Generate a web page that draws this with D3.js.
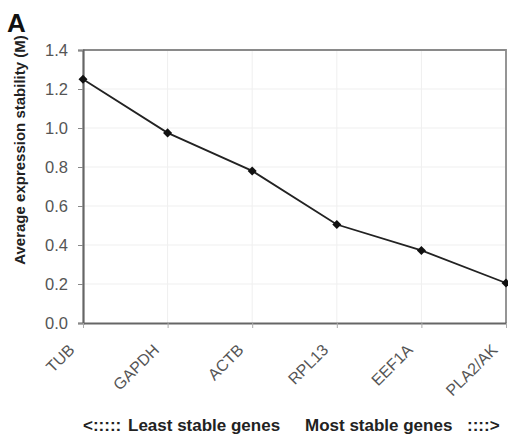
<!DOCTYPE html>
<html>
<head>
<meta charset="utf-8">
<script src="https://cdn.jsdelivr.net/npm/d3@7"></script>
<style>
  html, body { margin: 0; padding: 0; background: #fff; }
  svg { display: block; font-family: "Liberation Sans", Arial, sans-serif; }
</style>
</head>
<body>
<svg id="chart" width="508" height="438"></svg>
<script>
// Gene ranking by average expression stability (geNorm M value)
const genes = ["TUB", "GAPDH", "ACTB", "RPL13", "EEF1A", "PLA2/AK"];
const stabilityM = [1.25, 0.975, 0.78, 0.505, 0.372, 0.205];
const yTicks = [0.0, 0.2, 0.4, 0.6, 0.8, 1.0, 1.2, 1.4];
const noteParts = ["<:::::", "Least stable genes", "Most stable genes", "::::>"];

const svg = d3.select("#chart");
const m = { left: 83, right: 506, top: 50, bottom: 323 };
const font = "'Liberation Sans', Arial, sans-serif";

const x = d3.scalePoint().domain(genes).range([m.left, m.right]).padding(0);
const y = d3.scaleLinear().domain([0, 1.4]).range([m.bottom, m.top]);

// Panel letter
svg.append("text").attr("x", 7).attr("y", 32)
  .attr("font-size", 26).attr("font-weight", "bold").attr("fill", "#111")
  .text("A");

// Faint grid
const grid = svg.append("g");
grid.selectAll("line.h").data(yTicks.slice(1, -1)).join("line")
  .attr("x1", m.left).attr("x2", m.right)
  .attr("y1", d => y(d)).attr("y2", d => y(d))
  .attr("stroke", "#efefef").attr("stroke-width", 1);
grid.selectAll("line.v").data(genes.slice(1, -1)).join("line")
  .attr("x1", d => x(d)).attr("x2", d => x(d))
  .attr("y1", m.top).attr("y2", m.bottom)
  .attr("stroke", "#efefef").attr("stroke-width", 1);

// Top and right frame
svg.append("path")
  .attr("d", `M${m.left},${m.top}H${m.right}V${m.bottom}`)
  .attr("fill", "none").attr("stroke", "#8a8a8a").attr("stroke-width", 1.8);

// Y axis
const yAxis = svg.append("g").attr("transform", `translate(${m.left},0)`)
  .call(d3.axisLeft(y).tickValues(yTicks).tickFormat(d3.format(".1f")).tickSize(5).tickPadding(10));
yAxis.select(".domain").attr("stroke", "#666").attr("stroke-width", 2.2);
yAxis.selectAll(".tick line").attr("stroke", "#888");
yAxis.selectAll(".tick text").attr("font-size", 16.5).attr("fill", "#555")
  .attr("font-family", font);

// X axis with slanted gene names
const xAxis = svg.append("g").attr("transform", `translate(0,${m.bottom})`)
  .call(d3.axisBottom(x).tickSize(5).tickSizeOuter(0));
xAxis.select(".domain").attr("stroke", "#666").attr("stroke-width", 2.2);
xAxis.selectAll(".tick line").attr("stroke", "#aaa");
xAxis.selectAll(".tick text")
  .attr("font-size", 16).attr("fill", "#555")
  .attr("font-family", font)
  .attr("text-anchor", "end")
  .attr("dy", "0.35em")
  .attr("y", 0).attr("x", 0)
  .attr("transform", "translate(-12,24) rotate(-45)");

// Y axis title
svg.append("text")
  .attr("transform", `translate(25,150) rotate(-90)`)
  .attr("text-anchor", "middle")
  .attr("font-size", 15).attr("font-weight", "bold").attr("fill", "#222")
  .text("Average expression stability (M)");

// Line and diamond markers
const line = d3.line().x((d, i) => x(genes[i])).y(d => y(d));
svg.append("path").datum(stabilityM)
  .attr("d", line).attr("fill", "none")
  .attr("stroke", "#222").attr("stroke-width", 1.8);

const diamond = d3.symbol().type(d3.symbolDiamond2).size(52);
svg.selectAll("path.pt").data(stabilityM).join("path")
  .attr("class", "pt")
  .attr("d", diamond)
  .attr("transform", (d, i) => `translate(${x(genes[i])},${y(d)})`)
  .attr("fill", "#111");

// Direction note under the axis
const notePos = [83, 128, 305, 467];
const note = svg.append("text")
  .attr("y", 431)
  .attr("font-size", 17).attr("font-weight", "bold").attr("fill", "#222");
note.selectAll("tspan").data(noteParts).join("tspan")
  .attr("x", (d, i) => notePos[i])
  .text(d => d);
</script>
</body>
</html>
